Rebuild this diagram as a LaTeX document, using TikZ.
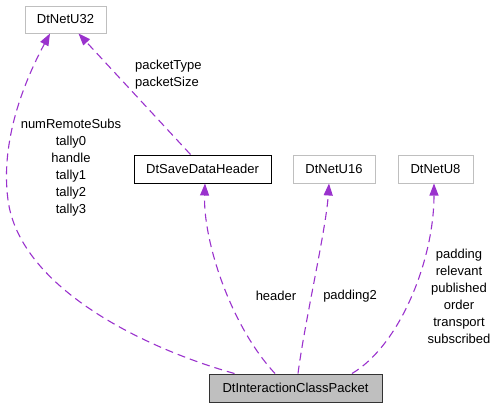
\documentclass[tikz,border=0pt]{standalone}
\usepackage{fontspec}
\setmainfont{Liberation Sans}
\usetikzlibrary{arrows.meta}
\definecolor{edgecol}{HTML}{9A32CD}
\definecolor{greyline}{HTML}{BFBFBF}
\definecolor{fillgrey}{HTML}{BFBFBF}
\begin{document}
\begin{tikzpicture}[x=1pt,y=-1pt,
  every node/.style={font=\fontsize{13}{17}\selectfont, inner sep=0pt},
  extbox/.style={draw=greyline, line width=1pt, minimum height=27pt, fill=white},
  docbox/.style={draw=black, line width=1pt, minimum height=28pt, fill=white},
  mainbox/.style={draw=black!80, line width=1pt, minimum height=28pt, fill=fillgrey},
  edge/.style={draw=edgecol, line width=1.1pt, dash pattern=on 8pt off 5pt,
    -{Triangle[length=12pt,width=9pt,fill=edgecol]}},
  lbl/.style={align=center},
]
\useasboundingbox (0,0) rectangle (496,408);
\node[extbox, minimum width=81pt] (u32) at (65.5,19.5) {DtNetU32};
\node[docbox, minimum width=137pt] (sdh) at (202.5,169) {DtSaveDataHeader};
\node[extbox, minimum width=82pt, minimum height=28pt] (u16) at (334,169) {DtNetU16};
\node[extbox, minimum width=75pt, minimum height=28pt] (u8) at (435.5,169) {DtNetU8};
\node[mainbox, minimum width=173pt] (icp) at (295.5,388) {DtInteractionClassPacket};

% edges
\draw[edge] ([xshift=-61pt]icp.north) .. controls (150,350) and (20,290) .. (8,200)
   .. controls (0,140) and (25,80) .. ([xshift=-15.5pt]u32.south);
\draw[edge] ([xshift=-12pt]sdh.north) -- ([xshift=13pt]u32.south);
\draw[edge] ([xshift=-20.5pt]icp.north) .. controls (230,325) and (203,240) .. ([xshift=2.5pt]sdh.south);
\draw[edge] ([xshift=2.5pt]icp.north) .. controls (305,320) and (326,230) .. ([xshift=-5pt]u16.south);
\draw[edge] ([xshift=56.5pt]icp.north) .. controls (400,345) and (434,260) .. ([xshift=-1.5pt]u8.south);

% labels
\node[align=left, anchor=west] (l1) at (135,74.5) {packetType\\packetSize};
\node[lbl] (l2) at (71,168) {numRemoteSubs\\tally0\\handle\\tally1\\tally2\\tally3};
\node (l3) at (276,296) {header};
\node (l4) at (350,296) {padding2};
\node[lbl] (l5) at (459,296) {padding\\relevant\\published\\order\\transport\\subscribed};
\end{tikzpicture}
\end{document}
